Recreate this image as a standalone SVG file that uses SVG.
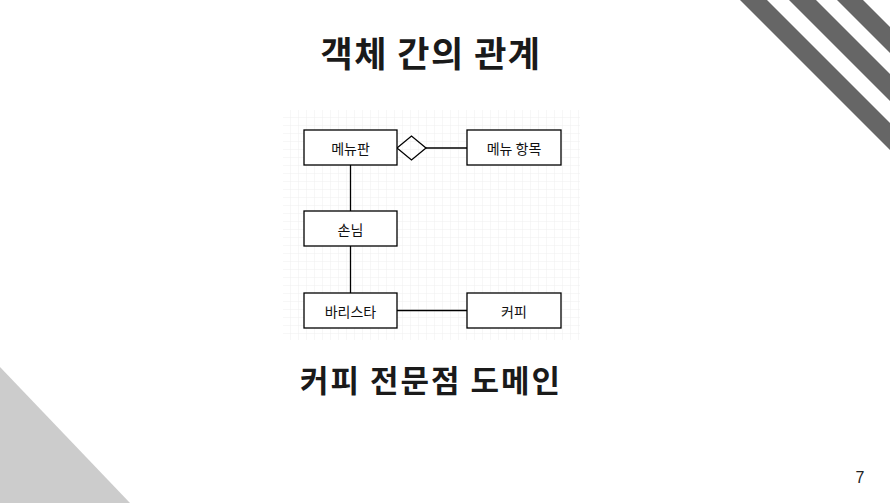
<svg xmlns="http://www.w3.org/2000/svg" width="890" height="503" viewBox="0 0 890 503">
<defs>
<pattern id="grid" x="283" y="110" width="8" height="8" patternUnits="userSpaceOnUse">
<path d="M8 0 V8 M0 8 H8" fill="none" stroke="#efefef" stroke-width="1"/>
</pattern>
</defs>
<style>
.box{fill:#fff;stroke:#000;stroke-width:1.3}
.lbl{font-family:"Noto Sans CJK KR","Noto Sans",sans-serif;font-size:14px;fill:#111;text-anchor:middle;dominant-baseline:central}
.title{font-family:"Noto Sans CJK KR","Noto Sans",sans-serif;font-weight:bold;fill:#1a1a1a;text-anchor:middle}
.conn{fill:none;stroke:#000;stroke-width:1.3}
</style>
<rect width="890" height="503" fill="#fff"/>
<g id="decor">
<polygon points="740,0 767,0 890,123 890,150" fill="#666"/>
<polygon points="789,0 816,0 890,74 890,101" fill="#666"/>
<polygon points="837,0 863,0 890,27 890,53" fill="#666"/>
<polygon points="0,367 0,503 130,503" fill="#ccc"/>
</g>
<text class="title" x="431" y="67" font-size="35" letter-spacing="1.5">객체 간의 관계</text>
<rect x="283" y="110" width="297" height="230" fill="url(#grid)"/>
<g id="connectors">
<line class="conn" x1="350.5" y1="165" x2="350.5" y2="211"/>
<line class="conn" x1="350.5" y1="246" x2="350.5" y2="293"/>
<line class="conn" x1="397" y1="310.5" x2="467" y2="310.5"/>
<line class="conn" x1="426" y1="148" x2="467" y2="148"/>
<polygon class="conn" points="397,148 411.5,136 426,148 411.5,160" fill="#fff"/>
</g>
<g id="menu"><rect class="box" x="304" y="130" width="93" height="35"/><text class="lbl" x="350.5" y="147.5">메뉴판</text></g>
<g id="menuitem"><rect class="box" x="467" y="130" width="94" height="35"/><text class="lbl" x="514" y="147.5">메뉴 항목</text></g>
<g id="customer"><rect class="box" x="304" y="211" width="93" height="35"/><text class="lbl" x="350.5" y="228.5">손님</text></g>
<g id="barista"><rect class="box" x="304" y="293" width="93" height="35"/><text class="lbl" x="350.5" y="310.5">바리스타</text></g>
<g id="coffee"><rect class="box" x="467" y="293" width="94" height="35"/><text class="lbl" x="514" y="310.5">커피</text></g>
<text class="title" x="431" y="392" font-size="31" letter-spacing="2">커피 전문점 도메인</text>
<text x="860" y="483" font-family="Liberation Sans,sans-serif" font-size="16" fill="#222" text-anchor="middle">7</text>
</svg>
